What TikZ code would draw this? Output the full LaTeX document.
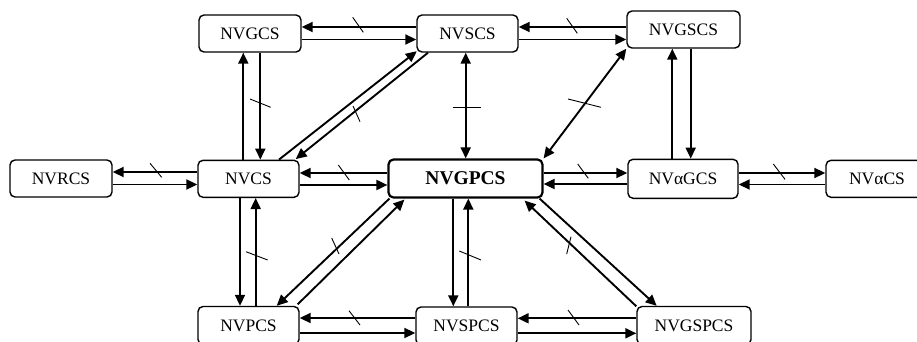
\documentclass[tikz,border=0pt]{standalone}
\usepackage{fontspec}
\setmainfont{Liberation Serif}
\usetikzlibrary{arrows.meta,calc}
\begin{document}
\begin{tikzpicture}[x=1pt,y=-1pt,
  box/.style={draw, rounded corners=5pt, line width=1.4pt, minimum height=37pt, inner sep=0pt, font=\fontsize{17.5}{17.5}\selectfont},
  mainbox/.style={box, line width=2.2pt, font=\fontsize{19.5}{19.5}\selectfont\bfseries},
  arr/.style={line width=1.9pt, -{Triangle[length=11pt,width=10pt]}},
  darr/.style={line width=1.9pt, {Triangle[length=11pt,width=10pt]}-{Triangle[length=11pt,width=10pt]}},
  tickmark/.style={line width=0.9pt}]
\clip (0,0) rectangle (917,342);
\fill[white] (0,0) rectangle (917,342);
% nodes
\node[box, minimum width=102pt] (NVGCS) at (250,33.5) {NVGCS};
\node[box, minimum width=101pt] (NVSCS) at (467.5,33.5) {NVSCS};
\node[box, minimum width=113pt] (NVGSCS) at (683.5,29.5) {NVGSCS};
\node[box, minimum width=102pt] (NVRCS) at (61,178.5) {NVRCS};
\node[box, minimum width=101pt] (NVCS) at (248.5,178.8) {NVCS};
\node[mainbox, minimum width=154pt, minimum height=38pt] (NVGPCS) at (465.5,178.5) {NVGPCS};
\node[box, minimum width=110pt, minimum height=39pt] (NVaGCS) at (683,178.8) {NVαGCS};
\node[box, minimum width=102pt] (NVaCS) at (877,178.8) {NVαCS};
\node[box, minimum width=101pt, minimum height=38pt] (NVPCS) at (248.5,325.5) {NVPCS};
\node[box, minimum width=101pt, minimum height=38pt] (NVSPCS) at (466.5,326) {NVSPCS};
\node[box, minimum width=114pt, minimum height=38pt] (NVGSPCS) at (694,325.5) {NVGSPCS};
% NVGCS - NVSCS
\draw[arr] (NVSCS.west |- 0,27) -- (NVGCS.east |- 0,27);
\draw[arr] (NVGCS.east |- 0,39.5) -- (NVSCS.west |- 0,39.5);
\draw[tickmark] (352.7,17.3) -- (363.3,32.3);
% NVSCS - NVGSCS
\draw[arr] (NVGSCS.west |- 0,27) -- (NVSCS.east |- 0,27);
\draw[arr] (NVSCS.east |- 0,39.5) -- (NVGSCS.west |- 0,39.5);
\draw[tickmark] (566.7,18.3) -- (577.3,33.3);
% NVGCS - NVCS
\draw[arr] (243.3,0 |- NVCS.north) -- (243.3,0 |- NVGCS.south);
\draw[arr] (260.3,0 |- NVGCS.south) -- (260.3,0 |- NVCS.north);
\draw[tickmark] (250,99) -- (270.7,107.3);
% NVCS - NVSCS
\draw[arr] ($(NVCS.north)+(30.5,0)$) -- ($(NVSCS.south west)+(0.5,-1.5)$);
\draw[arr] ($(NVSCS.south)+(-39.5,0)$) -- ($(NVCS.north east)+(-4,-0.5)$);
\draw[tickmark] (353,106) -- (360,121.7);
% NVSCS - NVGPCS
\draw[darr] (465.7,0 |- NVSCS.south) -- (465.7,0 |- NVGPCS.north);
\draw[tickmark] (452.7,107.3) -- (481,107.3);
% NVGSCS - NVGPCS
\draw[darr] (NVGSCS.south west) -- (NVGPCS.north east);
\draw[tickmark] (568,99) -- (601,107.3);
% NVGSCS - NVaGCS
\draw[arr] (672.3,0 |- NVaGCS.north) -- (672.3,0 |- NVGSCS.south);
\draw[arr] (690.7,0 |- NVGSCS.south) -- (690.7,0 |- NVaGCS.north);
% NVGPCS - NVaGCS
\draw[arr] (NVGPCS.east |- 0,173) -- (NVaGCS.west |- 0,173);
\draw[arr] (NVaGCS.west |- 0,184) -- (NVGPCS.east |- 0,184);
\draw[tickmark] (577.7,164) -- (588.3,178.3);
% NVaGCS - NVaCS
\draw[arr] (NVaGCS.east |- 0,173) -- (NVaCS.west |- 0,173);
\draw[arr] (NVaCS.west |- 0,184.5) -- (NVaGCS.east |- 0,184.5);
\draw[tickmark] (773.3,164) -- (785,179.3);
% NVRCS - NVCS
\draw[arr] (NVCS.west |- 0,172) -- (NVRCS.east |- 0,172);
\draw[arr] (NVRCS.east |- 0,184.5) -- (NVCS.west |- 0,184.5);
\draw[tickmark] (150,163.3) -- (161.7,177.3);
% NVCS - NVGPCS
\draw[arr] (NVGPCS.west |- 0,173) -- (NVCS.east |- 0,173);
\draw[arr] (NVCS.east |- 0,185) -- (NVGPCS.west |- 0,185);
\draw[tickmark] (338.3,165) -- (349.3,180);
% NVCS - NVPCS
\draw[arr] (240,0 |- NVCS.south) -- (240,0 |- NVPCS.north);
\draw[arr] (255.7,0 |- NVPCS.north) -- (255.7,0 |- NVCS.south);
\draw[tickmark] (246,251.7) -- (267.7,260);
% NVGPCS - NVPCS
\draw[arr] ($(NVGPCS.south west)+(2,0)$) -- ($(NVPCS.north)+(28.2,0)$);
\draw[arr] ($(NVPCS.north east)+(-2,-1.5)$) -- ($(NVGPCS.south west)+(17,1)$);
\draw[tickmark] (331.7,238) -- (339,254);
% NVGPCS - NVSPCS
\draw[arr] (453.3,0 |- NVGPCS.south) -- (453.3,0 |- NVSPCS.north);
\draw[arr] (468.3,0 |- NVSPCS.north) -- (468.3,0 |- NVGPCS.south);
\draw[tickmark] (459.3,251) -- (481,260);
% NVGPCS - NVGSPCS
\draw[arr] ($(NVGPCS.south east)+(-4,0)$) -- ($(NVGSPCS.north)+(-37.3,0)$);
\draw[arr] ($(NVGSPCS.north west)+(0,0.5)$) -- ($(NVGPCS.south east)+(-19,2)$);
\draw[tickmark] (566.7,254) -- (571,236.7);
% NVPCS - NVSPCS
\draw[arr] (NVSPCS.west |- 0,318) -- (NVPCS.east |- 0,318);
\draw[arr] (NVPCS.east |- 0,333) -- (NVSPCS.west |- 0,333);
\draw[tickmark] (349,310.7) -- (360,325);
% NVSPCS - NVGSPCS
\draw[arr] (NVGSPCS.west |- 0,318.3) -- (NVSPCS.east |- 0,318.3);
\draw[arr] (NVSPCS.east |- 0,333.3) -- (NVGSPCS.west |- 0,333.3);
\draw[tickmark] (568,310) -- (579,325);
\end{tikzpicture}
\end{document}
